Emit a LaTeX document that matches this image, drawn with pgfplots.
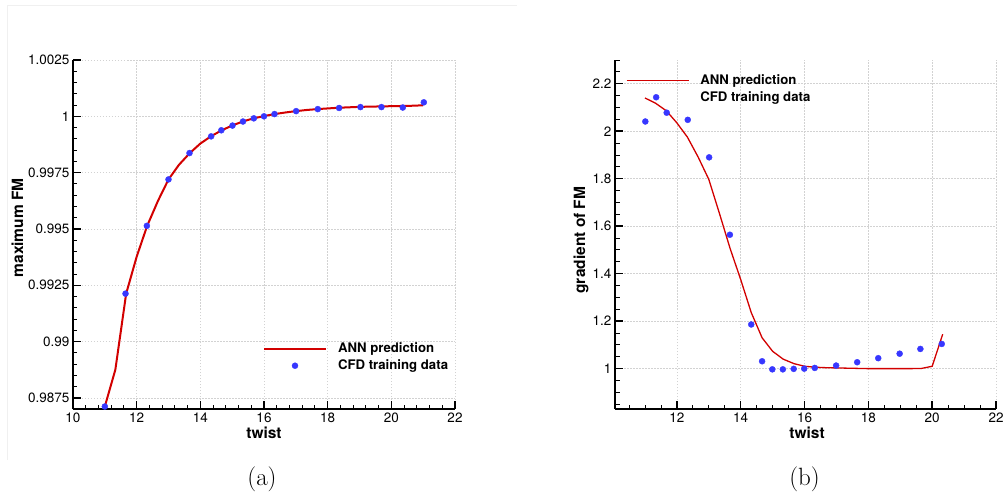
\documentclass[border=0pt]{standalone}
\usepackage{fontspec}
\usepackage{pgfplots}
\pgfplotsset{compat=1.18}
\newfontfamily\helv{TeX Gyre Heros}
\definecolor{annred}{RGB}{210,0,0}
\definecolor{cfdblue}{RGB}{55,55,255}
\pgfplotsset{
  lineleg/.style={legend image code/.code={\draw[##1] (0pt,0pt) -- (62pt,0pt);}},
  markleg/.style={legend image code/.code={\draw[mark repeat=2,mark phase=2,##1] plot coordinates {(0pt,0pt) (31pt,0pt) (62pt,0pt)};}},
  noleg/.style={legend image code/.code={}},
  tecplot/.style={
    scale only axis,
    axis lines=left,
    axis line style={-, line width=1.5pt, black},
    tick align=inside,
    major tick length=8pt,
    minor tick length=4.5pt,
    major tick style={line width=1.5pt, black},
    minor tick style={line width=0.9pt, black},
    grid=major,
    major grid style={line width=0.6pt, gray!35, dash pattern=on 1.5pt off 1.5pt},
    tick label style={font=\helv\fontsize{13.5}{15}\selectfont},
    /pgf/number format/assume math mode=true,
    label style={font=\helv\bfseries\fontsize{15.5}{18}\selectfont},
    legend style={draw=none, fill=none, inner sep=0pt, outer sep=0pt,
      row sep=3.7pt, column sep=11pt,
      font=\helv\bfseries\fontsize{13.2}{15}\selectfont,
      nodes={inner sep=0pt, text height=10pt, text depth=3pt}},
    legend cell align=left,
    clip=false,
  }
}
\begin{document}
\begin{tikzpicture}
\path[use as bounding box] (0,0) rectangle (1005pt,499pt);
\draw[gray!12, line width=0.9pt] (7pt,39pt) -- (7pt,494pt) -- (517pt,494pt);
% ---------------- (a) ----------------
\begin{axis}[tecplot,
  at={(73pt,90pt)}, anchor=south west,
  width=382pt, height=349pt,
  xmin=10, xmax=22, ymin=0.98701, ymax=1.0025,
  xtick={10,12,14,16,18,20,22},
  xticklabels={10,12,14,16,18,20,22},
  minor xtick={10.4,10.8,11.2,11.6,12.4,12.8,13.2,13.6,14.4,14.8,15.2,15.6,16.4,16.8,17.2,17.6,18.4,18.8,19.2,19.6,20.4,20.8,21.2,21.6},
  ytick={0.9875,0.99,0.9925,0.995,0.9975,1,1.0025},
  yticklabels={0.9875,0.99,0.9925,0.995,0.9975,1,1.0025},
  minor ytick={0.988,0.9885,0.989,0.9895,0.9905,0.991,0.9915,0.992,0.993,0.9935,0.994,0.9945,0.9955,0.996,0.9965,0.997,0.998,0.9985,0.999,0.9995,1.0005,1.001,1.0015,1.002},
  xlabel={twist}, ylabel={maximum FM},
  xlabel style={at={(axis description cs:0.5,-0.069)}, anchor=center},
  ylabel style={at={(axis description cs:-0.1453,0.519)}, anchor=center},
  legend style={at={(0.4974,0.1905)}, anchor=north west},
]
\addplot[annred, line width=2pt, lineleg]
coordinates {
(11,0.98712) (11.33,0.98875) (11.67,0.99213) (12,0.99377) (12.33,0.99514)
(12.67,0.99625) (13,0.99720) (13.33,0.99785) (13.67,0.99837) (14,0.99879)
(14.33,0.99911) (14.67,0.99938) (15,0.99959) (15.33,0.99977) (15.67,0.99991)
(16,1.00001) (16.33,1.00010) (16.67,1.00017) (17,1.00023) (17.33,1.00028)
(17.67,1.00032) (18,1.00035) (18.33,1.00038) (18.67,1.00040) (19,1.00042)
(19.33,1.00043) (19.67,1.00044) (20,1.00045) (20.33,1.00046) (20.67,1.00047)
(21,1.00049)};
\addlegendentry{ANN prediction}
\addplot[only marks, mark=*, mark size=3pt, cfdblue, mark options={draw=cfdblue, fill=cfdblue}, markleg]
coordinates {
(11,0.98712) (11.65,0.99213) (12.32,0.99514) (13,0.99720) (13.66,0.99837)
(14.34,0.99911) (14.66,0.99938) (15.01,0.99959) (15.34,0.99977) (15.68,0.99991)
(16,1.00000) (16.33,1.00010) (17.01,1.00023) (17.69,1.00032) (18.36,1.00037)
(19.03,1.00041) (19.69,1.00041) (20.36,1.00039) (21.02,1.00062)};
\addlegendentry{CFD training data}
\end{axis}
% ---------------- (b) ----------------
\begin{axis}[tecplot,
  at={(615pt,90pt)}, anchor=south west,
  width=381pt, height=349pt,
  xmin=10.06, xmax=22, ymin=0.83, ymax=2.3,
  xtick={12,14,16,18,20,22},
  xticklabels={12,14,16,18,20,22},
  minor xtick={10.5,11,11.5,12.5,13,13.5,14.5,15,15.5,16.5,17,17.5,18.5,19,19.5,20.5,21,21.5},
  ytick={1,1.2,1.4,1.6,1.8,2,2.2},
  yticklabels={1,1.2,1.4,1.6,1.8,2,2.2},
  minor ytick={0.85,0.9,0.95,1.05,1.1,1.15,1.25,1.3,1.35,1.45,1.5,1.55,1.65,1.7,1.75,1.85,1.9,1.95,2.05,2.1,2.15,2.25,2.3},
  xlabel={twist}, ylabel={gradient of FM},
  xlabel style={at={(axis description cs:0.504,-0.069)}, anchor=center},
  ylabel style={at={(axis description cs:-0.0892,0.484)}, anchor=center},
  legend style={at={(0.0289,0.959)}, anchor=north west},
]
\addplot[annred, line width=1.3pt, lineleg]
coordinates {
(11.0,2.140) (11.33,2.118) (11.67,2.086) (12.0,2.035) (12.33,1.975)
(12.67,1.890) (13.0,1.797) (13.33,1.655) (13.67,1.505) (14.0,1.375)
(14.33,1.236) (14.67,1.130) (15.0,1.073) (15.33,1.040) (15.67,1.021)
(16.0,1.010) (16.33,1.006) (16.67,1.004) (17.0,1.003) (17.33,1.002)
(17.67,1.001) (18.0,1.000) (18.33,1.000) (18.67,1.000) (19.0,1.000)
(19.33,1.000) (19.67,1.001) (20.0,1.010) (20.33,1.145)};
\addlegendentry{ANN prediction}
\addplot[only marks, mark=*, mark size=3pt, cfdblue, mark options={draw=cfdblue, fill=cfdblue}, noleg]
coordinates {
(11.01,2.041) (11.35,2.143) (11.68,2.078) (12.34,2.048) (13.01,1.890)
(13.66,1.564) (14.33,1.186) (14.67,1.031) (14.99,0.997) (15.32,0.997)
(15.66,0.999) (15.99,1.000) (16.32,1.003) (16.99,1.013) (17.65,1.027)
(18.31,1.044) (18.98,1.063) (19.63,1.083) (20.30,1.104)};
\addlegendentry{CFD training data}
\end{axis}
\node[font=\fontsize{25}{30}\selectfont] at (262pt,20pt) {(a)};
\node[font=\fontsize{25}{30}\selectfont] at (804.5pt,20pt) {(b)};
\end{tikzpicture}
\end{document}
